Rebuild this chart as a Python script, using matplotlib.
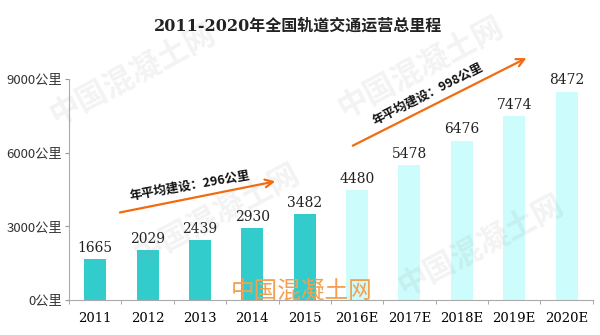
import matplotlib.pyplot as plt
import numpy as np

plt.rcParams['font.family'] = ['Noto Sans CJK SC', 'DejaVu Sans']

years = ['2011', '2012', '2013', '2014', '2015',
         '2016E', '2017E', '2018E', '2019E', '2020E']
mileage = [1665, 2029, 2439, 2930, 3482, 4480, 5478, 6476, 7474, 8472]
is_forecast = [False] * 5 + [True] * 5
yticks = [0, 3000, 6000, 9000]
ytick_labels = ['0公里', '3000公里', '6000公里', '9000公里']


def plot_mileage():
    fig = plt.figure(figsize=(6, 3.35), dpi=100)
    ax = fig.add_axes([0.115, 0.1045, 0.873, 0.66])

    x = np.arange(len(years))
    colors = ['#CCFCFC' if f else '#33CCCC' for f in is_forecast]
    ax.bar(x, mileage, width=0.42, color=colors, zorder=2)
    for xi, v in zip(x, mileage):
        ax.text(xi, v + 180, str(v), ha='center', va='bottom',
                fontsize=10, family='DejaVu Serif', color='#222222')

    ax.set_xlim(-0.5, len(years) - 0.5)
    ax.set_ylim(0, 9000)
    ax.set_yticks(yticks)
    ax.set_yticklabels(ytick_labels, fontsize=9.5, color='#333333')
    ax.set_xticks(x)
    ax.set_xticklabels(years, fontsize=9.5, family='DejaVu Serif')
    ax.set_xticks(np.arange(-0.5, len(years)), minor=True)
    ax.tick_params(axis='x', which='major', length=0, pad=9)
    ax.tick_params(axis='x', which='minor', length=3, color='#999999')
    ax.tick_params(axis='y', length=3, color='#999999', pad=2)
    for s in ['top', 'right']:
        ax.spines[s].set_visible(False)
    for s in ['left', 'bottom']:
        ax.spines[s].set_color('#AAAAAA')

    # trend arrows
    arrow = dict(arrowstyle='->', color='#F26B0F', lw=1.6, mutation_scale=14)
    ax.annotate('', xy=(3.49, 4850), xytext=(0.42, 3540), arrowprops=arrow)
    ax.text(1.81, 4640, '年平均建设：296公里', rotation=10, ha='center',
            va='center', fontsize=9, fontweight='bold', color='#111111')
    ax.annotate('', xy=(8.28, 9900), xytext=(4.87, 6230), arrowprops=arrow,
                annotation_clip=False)
    ax.text(6.35, 8390, '年平均建设：998公里', rotation=27, ha='center',
            va='center', fontsize=9, fontweight='bold', color='#111111')

    # watermarks
    for (wx, wy) in [(0.22, 0.78), (0.70, 0.80), (0.36, 0.36), (0.80, 0.27)]:
        fig.text(wx, wy, '中国混凝土网', rotation=28, ha='center', va='center',
                 fontsize=22, fontweight='bold', color='#999999', alpha=0.12)
    fig.text(0.503, 0.128, '中国混凝土网', ha='center', va='center',
             fontsize=17, color='#F5A050')

    fig.text(0.497, 0.922, '2011-2020年全国轨道交通运营总里程', ha='center',
             va='center', fontsize=11.5, fontweight='bold', color='#222222',
             family=['DejaVu Serif', 'Noto Sans CJK SC'])

    fig.savefig('out.png', dpi=100)


if __name__ == '__main__':
    plot_mileage()
